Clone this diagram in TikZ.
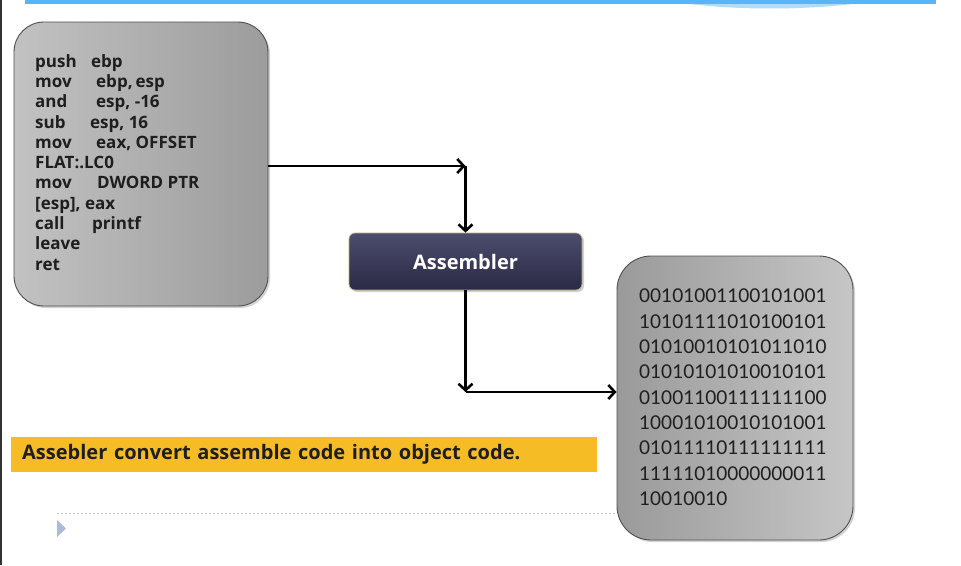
\documentclass[tikz,border=0pt]{standalone}
\usepackage{fontspec}
\setmainfont{Open Sans}
\newfontfamily\binfont{Lato}
\usetikzlibrary{arrows.meta,shadows}
\definecolor{bandblue}{HTML}{5AB4F8}
\definecolor{bandlight}{HTML}{AEDDFB}
\definecolor{boxedge}{HTML}{505050}
\definecolor{srcL}{HTML}{C2C2C2}
\definecolor{srcR}{HTML}{9C9C9C}
\definecolor{objL}{HTML}{9A9A9A}
\definecolor{objR}{HTML}{C6C6C6}
\definecolor{asmTop}{HTML}{4C4C6C}
\definecolor{asmBot}{HTML}{2A2A46}
\definecolor{asmEdge}{HTML}{B8B27C}
\definecolor{bannercol}{HTML}{F6BC25}
\definecolor{txtdark}{HTML}{1E1E1E}
\definecolor{dashcol}{HTML}{BFC6CF}
\definecolor{tricol}{HTML}{A9BBD6}
\begin{document}
\begin{tikzpicture}[x=1pt,y=-1pt,
  graybox/.style={draw=boxedge, line width=0.9pt, inner sep=0pt,
    drop shadow={opacity=0.35, shadow xshift=2pt, shadow yshift=-2pt}},
  srcbox/.style={graybox, rounded corners=30pt, left color=srcL, right color=srcR},
  objbox/.style={graybox, rounded corners=34pt, left color=objL, right color=objR},
  asmbox/.style={draw=asmEdge, line width=0.8pt, rounded corners=6pt,
    top color=asmTop, bottom color=asmBot, text=white,
    font=\bfseries\fontsize{20}{24}\selectfont,
    drop shadow={opacity=0.35, shadow xshift=2pt, shadow yshift=-2pt}},
  codetext/.style={inner sep=0pt, align=left, text=txtdark,
    font=\bfseries\fontsize{17}{20.3}\selectfont},
  bintext/.style={inner sep=0pt, align=left, text=txtdark,
    font=\binfont\fontsize{19}{25.3}\selectfont},
  banner/.style={fill=bannercol, inner xsep=11pt, inner ysep=0pt,
    minimum height=35pt, text width=564pt, align=left, text=txtdark,
    font=\bfseries\fontsize{20}{24}\selectfont},
  arr/.style={line width=2.6pt, -{Straight Barb[length=6.5pt,width=14pt]}}
]
\useasboundingbox (0,0) rectangle (961,565);
\fill[white] (0,0) rectangle (961,565);
% slide decorations
\fill[black!80] (0,0) rectangle (2,565);
\fill[bandblue] (25,0) rectangle (936,4);
\fill[bandlight] (690,4) .. controls (740,10) and (800,10) .. (853,4) -- cycle;
% boxes
\node[srcbox, minimum width=254pt, minimum height=284pt] (src) at (141,164) {};
\node[objbox, minimum width=236pt, minimum height=284pt] (obj) at (735,398) {};
\node[asmbox, minimum width=233pt, minimum height=57pt] (asmb) at (465.5,261.5) {Assembler};
% code text
\node[codetext, anchor=north west] (code) at (35,54) {%
\makebox[56pt][l]{push}ebp\\
\makebox[61pt][l]{mov}ebp,\,esp\\
\makebox[61pt][l]{and}esp, -16\\
\makebox[55pt][l]{sub}esp, 16\\
\makebox[61pt][l]{mov}eax, OFFSET\\
FLAT:.LC0\\
\makebox[62pt][l]{mov}DWORD PTR\\
{[esp], eax}\\
\makebox[57pt][l]{call}printf\\
leave\\
ret};
% binary text
\node[bintext, anchor=north west] (bin) at (639,289) {%
00101001100101001\\
10101111010100101\\
01010010101011010\\
01010101010010101\\
01001100111111100\\
10001010010101001\\
01011110111111111\\
11111010000000011\\
10010010};
% connectors
\coordinate (j1) at (asmb.north |- 0,166);
\coordinate (j2) at (asmb.south |- 0,392);
\draw[arr] (src.east |- j1) -- (j1);
\draw[arr] (j1) -- (asmb.north);
\draw[arr] (asmb.south) -- (j2);
\draw[arr] (j2) -- (j2 -| obj.west);
% banner
\node[banner, anchor=north west] (note) at (11,437) {Assebler convert assemble code into object code.};
% footer
\draw[dashcol, line width=0.8pt, dash pattern=on 2pt off 2pt] (57,513) -- (617,513);
\fill[tricol] (57,520) -- (66,528.5) -- (57,537) -- cycle;
\end{tikzpicture}
\end{document}
